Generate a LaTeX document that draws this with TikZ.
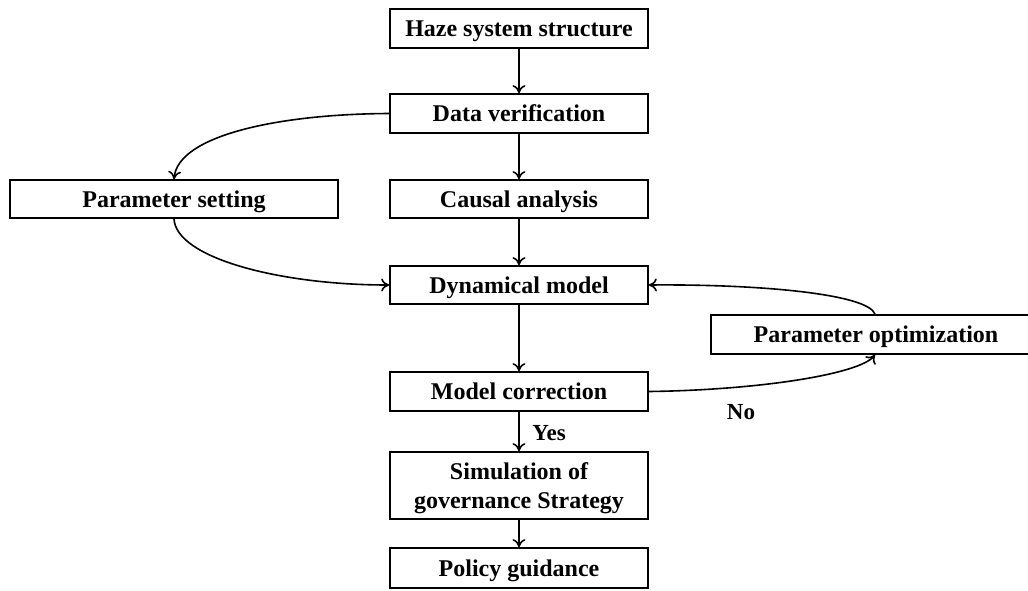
\documentclass[tikz,border=0pt]{standalone}
\usepackage{fontspec}
\setmainfont{Liberation Serif}
\usetikzlibrary{arrows.meta}
\begin{document}
\begin{tikzpicture}[x=0.5pt,y=-0.5pt,
  box/.style={draw, line width=0.85pt, inner sep=0pt, align=center,
    font=\bfseries\fontsize{12}{14.5}\selectfont},
  one/.style={box, text height=11pt, text depth=2.6pt},
  link/.style={line width=0.8pt, -{To[length=4pt,width=6.5pt]}},
  lbl/.style={font=\bfseries\fontsize{11.5}{13}\selectfont}]
\useasboundingbox (0,0) rectangle (1028,590);

% main column
\node[one, minimum width=129pt, minimum height=19.5pt] (haze) at (519,28.5) {Haze system structure};
\node[one, minimum width=129pt, minimum height=19.5pt] (dv)   at (519,113.5) {Data verification};
\node[one, minimum width=129pt, minimum height=19pt]   (ca)   at (519,199) {Causal analysis};
\node[one, minimum width=129pt, minimum height=19pt]   (dm)   at (519,285) {Dynamical model};
\node[one, minimum width=129pt, minimum height=19.5pt] (mc)   at (519,391.5) {Model correction};
\node[box, minimum width=129pt, minimum height=33.5pt] (sim)  at (519,485.5) {\rule{0pt}{11.5pt}Simulation of\\governance Strategy};
\node[one, minimum width=129pt, minimum height=20pt]   (pg)   at (519,568) {Policy guidance};

% side boxes (the optimisation box runs past the right margin)
\node[one, minimum width=164pt, minimum height=19pt]   (ps)   at (174,199) {Parameter setting};
\node[one, minimum width=165pt, minimum height=19.5pt] (po)   at (876,334.5) {Parameter optimization};

% straight flow
\draw[link] (haze) -- (dv);
\draw[link] (dv) -- (ca);
\draw[link] (ca) -- (dm);
\draw[link] (dm) -- (mc);
\draw[link] (mc) -- node[lbl, right=3pt, pos=0.55] {Yes} (sim);
\draw[link] (sim) -- (pg);

% parameter setting branch
\draw[link] (dv.west) .. controls (280,114) and (178,135) .. (ps.north);
\draw[link] (ps.south) .. controls (176,258) and (280,285) .. (dm.west);

% correction loop
\coordinate (poin) at ([xshift=-0.5pt]po.south);
\coordinate (poout) at ([xshift=-0.5pt]po.north);
\draw[link] (mc.east) .. controls (760,390) and (860,374) .. (poin);
\draw[link] (poout) .. controls (868,294) and (760,284) .. (dm.east);
\node[lbl] (no) at (741,412) {No};
\end{tikzpicture}
\end{document}
